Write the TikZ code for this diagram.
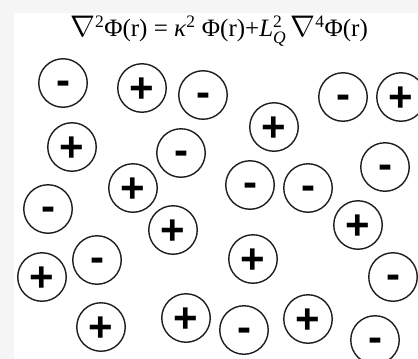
\documentclass[tikz,border=0pt]{standalone}
\usepackage{fontspec}
\setmainfont{Liberation Serif}
\newfontfamily\signfont{Liberation Sans}
\newcommand{\bignabla}{\raisebox{0.5pt}{\scalebox{1.2}{\(\nabla\)}}}
\tikzset{
  ion/.style={circle, draw=black!88, line width=1.4pt, minimum size=48.5pt, inner sep=0pt, text depth=0pt,
    font=\signfont\bfseries\fontsize{42}{42}\selectfont},
  plusion/.style={ion, text height=28.5pt},
  minusion/.style={ion, text height=22pt},
}
\begin{document}
\begin{tikzpicture}[x=1pt,y=-1pt]
\useasboundingbox (0,0) rectangle (418,359);
\fill[black!4] (0,0) rectangle (418,359);
\fill[white] (14,13) rectangle (418,359);
\node[font=\fontsize{25}{25}\selectfont, inner sep=0pt] (eq) at (219,31)
  {\bignabla\textsuperscript{2}Φ(r) = \textit{κ}\textsuperscript{2} Φ(r)+\(\mathit{L}^{\mathrm{2}}_{\mathit{Q}}\)\,\bignabla\textsuperscript{4}Φ(r)};
\begin{scope}
\clip (0,0) rectangle (418,359);
\node[minusion] (c1) at (63,83) {-};
\node[plusion] (c2) at (142,88) {+};
\node[minusion] (c3) at (203,95) {-};
\node[plusion] (c4) at (274,127) {+};
\node[minusion] (c5) at (343,97) {-};
\node[plusion] (c6) at (401,97) {+};
\node[plusion] (c7) at (72,147) {+};
\node[minusion] (c8) at (181,153) {-};
\node[plusion] (c9) at (133,188) {+};
\node[minusion] (c10) at (48,209) {-};
\node[minusion] (c11) at (250,185) {-};
\node[minusion] (c12) at (308,188) {-};
\node[minusion] (c13) at (385,167) {-};
\node[plusion] (c14) at (173,230) {+};
\node[plusion] (c15) at (358,225) {+};
\node[plusion] (c16) at (42,277) {+};
\node[minusion] (c17) at (97,260) {-};
\node[plusion] (c18) at (253,259) {+};
\node[minusion] (c19) at (393,277) {-};
\node[plusion] (c20) at (101,327) {+};
\node[plusion] (c21) at (186,318) {+};
\node[minusion] (c22) at (244,330) {-};
\node[plusion] (c23) at (308,319) {+};
\node[minusion] (c24) at (375,340) {-};
\end{scope}
\end{tikzpicture}
\end{document}
